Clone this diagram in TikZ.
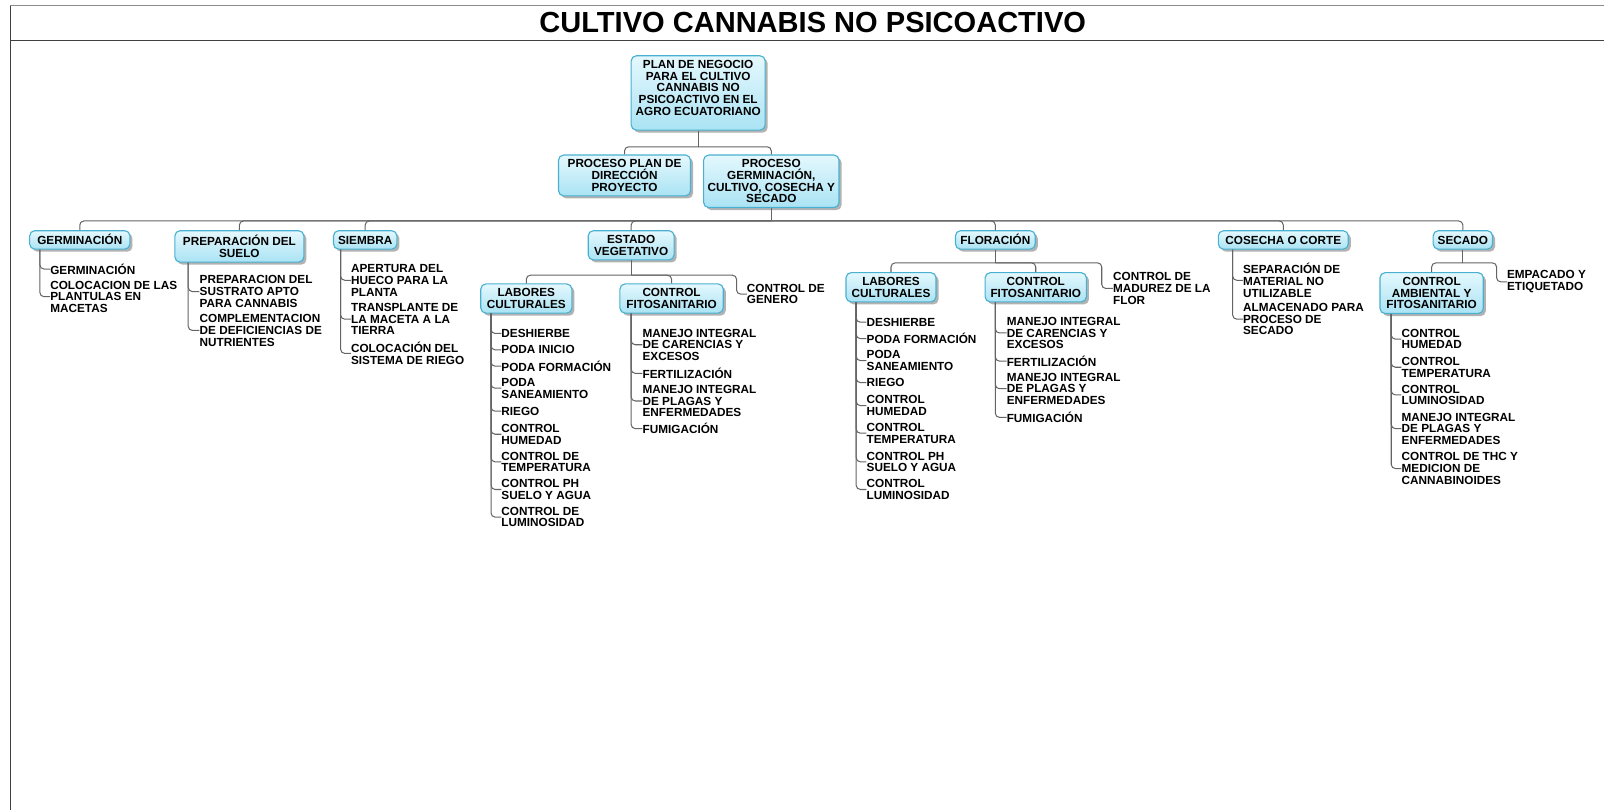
\documentclass[tikz,border=0pt]{standalone}
\usepackage{fontspec}
\setmainfont{Liberation Sans}
\usetikzlibrary{shadows}
\definecolor{boxtop}{RGB}{228,248,253}
\definecolor{boxbot}{RGB}{170,227,244}
\definecolor{boxline}{RGB}{72,176,208}
\definecolor{linkgray}{RGB}{100,100,100}
\def\rc{4pt}
\def\fs{\fontsize{11.5}{11.4}\selectfont\bfseries}
\tikzset{
	box/.style={
		rectangle,
		rounded corners=5pt,
		draw=boxline,
		line width=1.1pt,
		top color=boxtop,
		bottom color=boxbot,
		drop shadow={shadow xshift=2.5pt,shadow yshift=-2.5pt,fill=black,opacity=.3},
		align=center,
		anchor=north,
		inner xsep=4pt,
		inner ysep=4.5pt,
		minimum height=18pt,
		font=\fs,
	},
	oneline/.style={
		text height=8.3pt,
		text depth=0pt,
	},
	leaf/.style={
		anchor=west,
		align=left,
		inner sep=0pt,
		font=\fs,
	},
	link/.style={
		draw=linkgray,
		line width=1pt,
		rounded corners=\rc,
	},
}
\begin{document}
\begin{tikzpicture}[x=1pt,y=-1pt]
\useasboundingbox (0,0) rectangle (1568,792);
% frame and title
\draw[line width=1.3pt,black!45] (10,5.5) -- (1568,5.5);
\draw[line width=1.3pt,black!75] (10,5.5) -- (10,792);
\draw[line width=1.3pt,black!75] (10,39.5) -- (1568,39.5);
\node[font=\fontsize{28.4}{30}\selectfont\bfseries] (title) at (794.5,22) {CULTIVO CANNABIS NO PSICOACTIVO};

% boxes
\node[box,minimum width=131pt,text depth=10pt] (plan) at (682.5,54) {PLAN DE NEGOCIO\\PARA EL CULTIVO\\CANNABIS NO\\PSICOACTIVO EN EL\\AGRO ECUATORIANO};
\node[box,minimum width=129pt] (pdp) at (610.5,151) {PROCESO PLAN DE\\DIRECCIÓN\\PROYECTO};
\node[box,minimum width=132pt] (pgc) at (754,151) {PROCESO\\GERMINACIÓN,\\CULTIVO, COSECHA Y\\SECADO};

\node[box,oneline,minimum width=98pt] (ger) at (78,225) {GERMINACIÓN};
\node[box,minimum width=126pt] (prep) at (234,225) {PREPARACIÓN DEL\\SUELO};
\node[box,oneline,minimum width=62pt] (sie) at (357,225) {SIEMBRA};
\node[box,minimum width=84pt] (ev) at (617,225) {ESTADO\\VEGETATIVO};
\node[box,oneline,minimum width=78pt] (flo) at (973,225) {FLORACIÓN};
\node[box,oneline,minimum width=127pt] (cos) at (1254.5,225) {COSECHA O CORTE};
\node[box,oneline,minimum width=58pt] (sec) at (1430,225) {SECADO};

\node[box,minimum width=89pt] (evlab) at (514.5,277) {LABORES\\CULTURALES};
\node[box,minimum width=101pt] (evfit) at (656.5,277) {CONTROL\\FITOSANITARIO};
\node[box,minimum width=88pt] (fllab) at (871,266) {LABORES\\CULTURALES};
\node[box,minimum width=99pt] (flfit) at (1012.5,266) {CONTROL\\FITOSANITARIO};
\node[box,minimum width=101pt] (cam) at (1399.5,266) {CONTROL\\AMBIENTAL Y\\FITOSANITARIO};

% leaves
\node[leaf] (ger1) at (49,263) {GERMINACIÓN};
\node[leaf] (ger2) at (49,290) {COLOCACION DE LAS\\PLANTULAS EN\\MACETAS};

\node[leaf] (prep1) at (195,285) {PREPARACION DEL\\SUSTRATO APTO\\PARA CANNABIS};
\node[leaf] (prep2) at (195,323) {COMPLEMENTACION\\DE DEFICIENCIAS DE\\NUTRIENTES};

\node[leaf] (sie1) at (343,274) {APERTURA DEL\\HUECO PARA LA\\PLANTA};
\node[leaf] (sie2) at (343,312) {TRANSPLANTE DE\\LA MACETA A LA\\TIERRA};
\node[leaf] (sie3) at (343,345.5) {COLOCACIÓN DEL\\SISTEMA DE RIEGO};

\node[leaf] (evgen) at (730,287.5) {CONTROL DE\\GENERO};
\node[leaf] (evlab1) at (490,326) {DESHIERBE};
\node[leaf] (evlab2) at (490,342) {PODA INICIO};
\node[leaf] (evlab3) at (490,358) {PODA FORMACIÓN};
\node[leaf] (evlab4) at (490,379.5) {PODA\\SANEAMIENTO};
\node[leaf] (evlab5) at (490,402) {RIEGO};
\node[leaf] (evlab6) at (490,424.5) {CONTROL\\HUMEDAD};
\node[leaf] (evlab7) at (490,451.5) {CONTROL DE\\TEMPERATURA};
\node[leaf] (evlab8) at (490,478.5) {CONTROL PH\\SUELO Y AGUA};
\node[leaf] (evlab9) at (490,505.5) {CONTROL DE\\LUMINOSIDAD};
\node[leaf] (evfit1) at (628,337) {MANEJO INTEGRAL\\DE CARENCIAS Y\\EXCESOS};
\node[leaf] (evfit2) at (628,365) {FERTILIZACIÓN};
\node[leaf] (evfit3) at (628,392) {MANEJO INTEGRAL\\DE PLAGAS Y\\ENFERMEDADES};
\node[leaf] (evfit4) at (628,419) {FUMIGACIÓN};

\node[leaf] (flmad) at (1088,282) {CONTROL DE\\MADUREZ DE LA\\FLOR};
\node[leaf] (fllab1) at (847,315) {DESHIERBE};
\node[leaf] (fllab2) at (847,331) {PODA FORMACIÓN};
\node[leaf] (fllab3) at (847,352.5) {PODA\\SANEAMIENTO};
\node[leaf] (fllab4) at (847,374) {RIEGO};
\node[leaf] (fllab5) at (847,396.5) {CONTROL\\HUMEDAD};
\node[leaf] (fllab6) at (847,423.5) {CONTROL\\TEMPERATURA};
\node[leaf] (fllab7) at (847,451.5) {CONTROL PH\\SUELO Y AGUA};
\node[leaf] (fllab8) at (847,478.5) {CONTROL\\LUMINOSIDAD};
\node[leaf] (flfit1) at (984,325.5) {MANEJO INTEGRAL\\DE CARENCIAS Y\\EXCESOS};
\node[leaf] (flfit2) at (984,353) {FERTILIZACIÓN};
\node[leaf] (flfit3) at (984,380) {MANEJO INTEGRAL\\DE PLAGAS Y\\ENFERMEDADES};
\node[leaf] (flfit4) at (984,408) {FUMIGACIÓN};

\node[leaf] (cos1) at (1215,274) {SEPARACIÓN DE\\MATERIAL NO\\UTILIZABLE};
\node[leaf] (cos2) at (1215,312) {ALMACENADO PARA\\PROCESO DE\\SECADO};

\node[leaf] (emp) at (1473,275.5) {EMPACADO Y\\ETIQUETADO};
\node[leaf] (cam1) at (1370,331.5) {CONTROL\\HUMEDAD};
\node[leaf] (cam2) at (1370,359) {CONTROL\\TEMPERATURA};
\node[leaf] (cam3) at (1370,386) {CONTROL\\LUMINOSIDAD};
\node[leaf] (cam4) at (1370,419) {MANEJO INTEGRAL\\DE PLAGAS Y\\ENFERMEDADES};
\node[leaf] (cam5) at (1370,458) {CONTROL DE THC Y\\MEDICION DE\\CANNABINOIDES};

% junctions
\coordinate (j0) at (682.5,143.5);
\coordinate (j1) at (754,216);
\coordinate (j2) at (617,269);
\coordinate (j3) at (973,257);
\coordinate (j4) at (1430,257);

% tree links
\draw[link] (plan.south) -- (j0);
\draw[link] (j0) -| (pdp.north);
\draw[link] (j0) -| (pgc.north);
\draw[link] (pgc.south) -- (j1);
\draw[link] (j1) -| (ger.north);
\draw[link] (j1) -| (prep.north);
\draw[link] (j1) -| (sie.north);
\draw[link] (j1) -| (ev.north);
\draw[link] (j1) -| (flo.north);
\draw[link] (j1) -| (cos.north);
\draw[link] (j1) -| (sec.north);
\draw[link] (ev.south) -- (j2);
\draw[link] (j2) -| (evlab.north);
\draw[link] (j2) -| (evfit.north);
\draw[link] (j2) -| ([xshift=-10pt]evgen.west) -- (evgen.west);
\draw[link] (flo.south) -- (j3);
\draw[link] (j3) -| (fllab.north);
\draw[link] (j3) -| (flfit.north);
\draw[link] (j3) -| ([xshift=-11pt]flmad.west) -- (flmad.west);
\draw[link] (sec.south) -- (j4);
\draw[link] (j4) -| (cam.north);
\draw[link] (j4) -| ([xshift=-10pt]emp.west) -- (emp.west);

% leaf links
\coordinate (gerx) at ([xshift=-10pt]ger1.west);
\draw[link] (gerx |- ger.south) |- (ger1.west);
\draw[link] (gerx |- ger.south) |- (ger2.west);
\coordinate (prepx) at ([xshift=-11pt]prep1.west);
\draw[link] (prepx |- prep.south) |- (prep1.west);
\draw[link] (prepx |- prep.south) |- (prep2.west);
\coordinate (siex) at ([xshift=-10pt]sie1.west);
\draw[link] (siex |- sie.south) |- (sie1.west);
\draw[link] (siex |- sie.south) |- (sie2.west);
\draw[link] (siex |- sie.south) |- (sie3.west);
\coordinate (evlabx) at ([xshift=-10pt]evlab1.west);
\draw[link] (evlabx |- evlab.south) |- (evlab1.west);
\draw[link] (evlabx |- evlab.south) |- (evlab2.west);
\draw[link] (evlabx |- evlab.south) |- (evlab3.west);
\draw[link] (evlabx |- evlab.south) |- (evlab4.west);
\draw[link] (evlabx |- evlab.south) |- (evlab5.west);
\draw[link] (evlabx |- evlab.south) |- (evlab6.west);
\draw[link] (evlabx |- evlab.south) |- (evlab7.west);
\draw[link] (evlabx |- evlab.south) |- (evlab8.west);
\draw[link] (evlabx |- evlab.south) |- (evlab9.west);
\coordinate (evfitx) at ([xshift=-11pt]evfit1.west);
\draw[link] (evfitx |- evfit.south) |- (evfit1.west);
\draw[link] (evfitx |- evfit.south) |- (evfit2.west);
\draw[link] (evfitx |- evfit.south) |- (evfit3.west);
\draw[link] (evfitx |- evfit.south) |- (evfit4.west);
\coordinate (fllabx) at ([xshift=-10pt]fllab1.west);
\draw[link] (fllabx |- fllab.south) |- (fllab1.west);
\draw[link] (fllabx |- fllab.south) |- (fllab2.west);
\draw[link] (fllabx |- fllab.south) |- (fllab3.west);
\draw[link] (fllabx |- fllab.south) |- (fllab4.west);
\draw[link] (fllabx |- fllab.south) |- (fllab5.west);
\draw[link] (fllabx |- fllab.south) |- (fllab6.west);
\draw[link] (fllabx |- fllab.south) |- (fllab7.west);
\draw[link] (fllabx |- fllab.south) |- (fllab8.west);
\coordinate (flfitx) at ([xshift=-11pt]flfit1.west);
\draw[link] (flfitx |- flfit.south) |- (flfit1.west);
\draw[link] (flfitx |- flfit.south) |- (flfit2.west);
\draw[link] (flfitx |- flfit.south) |- (flfit3.west);
\draw[link] (flfitx |- flfit.south) |- (flfit4.west);
\coordinate (cosx) at ([xshift=-10pt]cos1.west);
\draw[link] (cosx |- cos.south) |- (cos1.west);
\draw[link] (cosx |- cos.south) |- (cos2.west);
\coordinate (camx) at ([xshift=-10pt]cam1.west);
\draw[link] (camx |- cam.south) |- (cam1.west);
\draw[link] (camx |- cam.south) |- (cam2.west);
\draw[link] (camx |- cam.south) |- (cam3.west);
\draw[link] (camx |- cam.south) |- (cam4.west);
\draw[link] (camx |- cam.south) |- (cam5.west);
\end{tikzpicture}
\end{document}
